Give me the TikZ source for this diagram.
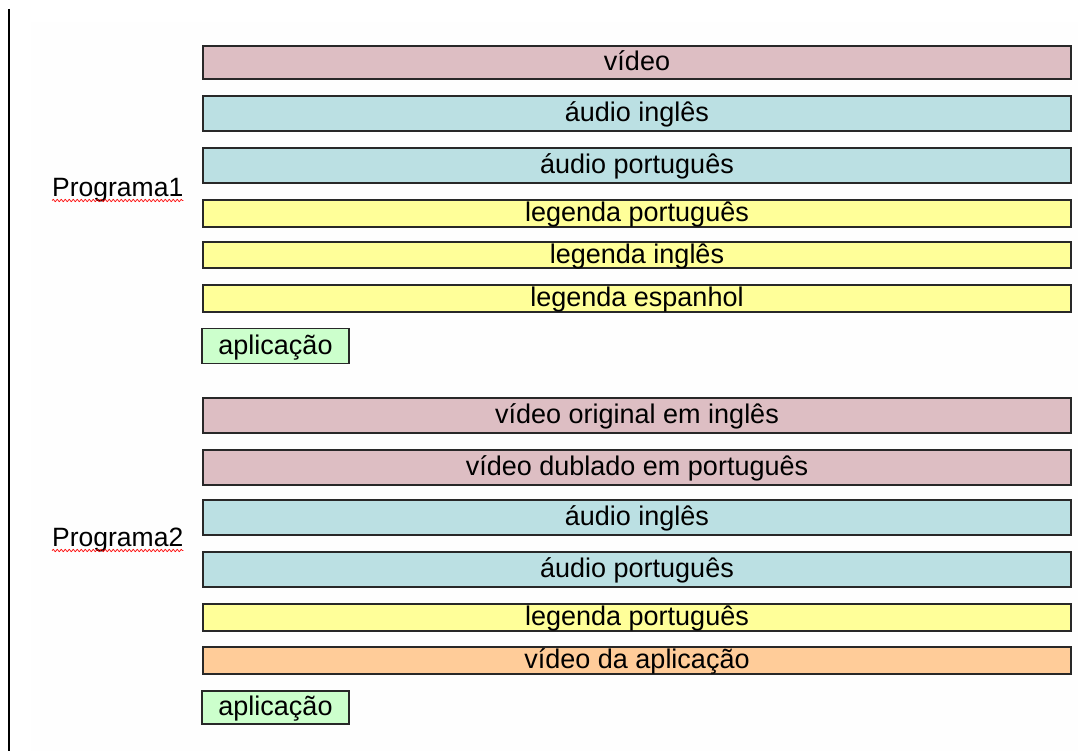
\documentclass[tikz,border=0pt]{standalone}
\usepackage{fontspec}
\setmainfont{Liberation Sans}
\usetikzlibrary{decorations.pathmorphing}

\definecolor{videofill}{RGB}{221,190,195}
\definecolor{audiofill}{RGB}{187,224,227}
\definecolor{legfill}{RGB}{255,255,153}
\definecolor{appvidfill}{RGB}{255,204,153}
\definecolor{appfill}{RGB}{204,255,204}
\definecolor{edge}{RGB}{40,40,40}
\definecolor{paper}{RGB}{254,254,254}

\tikzset{
  stream/.style={draw=edge, line width=1.5pt, rectangle, inner sep=0pt,
    minimum width=868pt, text height=19pt, text depth=3pt,
    font=\fontsize{27}{30}\selectfont},
  appbox/.style={stream, minimum width=147pt, fill=appfill},
  proglabel/.style={anchor=base west, inner sep=0pt,
    font=\fontsize{26.5}{30}\selectfont},
  spellmark/.style={draw=red, line width=0.7pt, decorate,
    decoration={snake, amplitude=1.1pt, segment length=4pt}},
}

\begin{document}
\begin{tikzpicture}[x=1pt, y=-1pt]
  \useasboundingbox (0,0) rectangle (1078,751);
  \fill[white] (0,0) rectangle (1078,751);
  \fill[paper] (31,22) rectangle (1078,751);
  \draw[line width=2.4pt] (9,9) -- (9,751);

  % Programa1
  \node[proglabel] (p1) at (52,196.5) {Programa1};
  \draw[spellmark] ([yshift=-4pt]p1.base west) -- ([yshift=-4pt]p1.base east);

  \node[stream, fill=videofill,  minimum height=33pt] (a1) at (637,62.5)  {vídeo};
  \node[stream, fill=audiofill,  minimum height=35pt] (a2) at (637,113.5) {áudio inglês};
  \node[stream, fill=audiofill,  minimum height=35pt] (a3) at (637,165.5) {áudio português};
  \node[stream, fill=legfill,    minimum height=27pt] (a4) at (637,213.5) {legenda português};
  \node[stream, fill=legfill,    minimum height=26pt] (a5) at (637,255)   {legenda inglês};
  \node[stream, fill=legfill,    minimum height=27pt] (a6) at (637,298.5) {legenda espanhol};
  \node[appbox, minimum height=35pt] (a7) at (275.5,346) {aplicação};

  % Programa2
  \node[proglabel] (p2) at (52,546.5) {Programa2};
  \draw[spellmark] ([yshift=-4pt]p2.base west) -- ([yshift=-4pt]p2.base east);

  \node[stream, fill=videofill,  minimum height=35pt] (b1) at (637,415.5) {vídeo original em inglês};
  \node[stream, fill=videofill,  minimum height=35pt] (b2) at (637,467.5) {vídeo dublado em português};
  \node[stream, fill=audiofill,  minimum height=35pt] (b3) at (637,517.5) {áudio inglês};
  \node[stream, fill=audiofill,  minimum height=35pt] (b4) at (637,569.5) {áudio português};
  \node[stream, fill=legfill,    minimum height=27pt] (b5) at (637,617.5) {legenda português};
  \node[stream, fill=appvidfill, minimum height=27pt] (b6) at (637,660.5) {vídeo da aplicação};
  \node[appbox, minimum height=33pt] (b7) at (275.5,707.5) {aplicação};
\end{tikzpicture}
\end{document}
